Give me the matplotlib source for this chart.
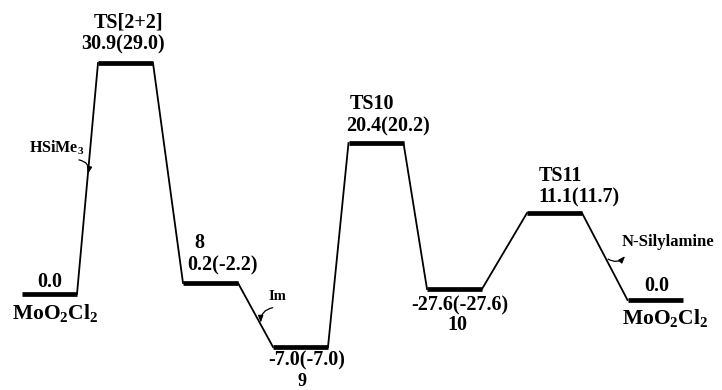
import matplotlib
matplotlib.use("Agg")
import matplotlib.pyplot as plt

# ---------------- data ----------------
species = ["MoO$_2$Cl$_2$", "TS[2+2]", "8", "9", "TS10", "10", "TS11", "MoO$_2$Cl$_2$"]
energy = [0.0, 30.9, 0.2, -7.0, 20.4, -27.6, 11.1, 0.0]
energy_sol = [None, 29.0, -2.2, -7.0, 20.2, -27.6, 11.7, None]
# schematic drawn level (diagram units, not to scale)
level = [0, 231, 11, -53, 151, 5, 81, -6]
step_labels = ["HSiMe$_3$", "Im", "N-Silylamine"]

# ---------------- layout ----------------
xcent = [49.5, 125.5, 210.5, 300.5, 376, 454.5, 554.5, 655]
half = 27.5

plt.rcParams["font.family"] = ["Liberation Serif", "DejaVu Serif"]
plt.rcParams["font.weight"] = "bold"
plt.rcParams["mathtext.fontset"] = "custom"
plt.rcParams["mathtext.rm"] = "Liberation Serif:bold"
plt.rcParams["mathtext.it"] = "Liberation Serif:bold"
plt.rcParams["mathtext.bf"] = "Liberation Serif:bold"
plt.rcParams["mathtext.default"] = "rm"

fig = plt.figure(figsize=(7.22, 3.90), dpi=100)
ax = fig.add_axes([0, 0, 1, 1])
ax.set_xlim(0, 722)
ax.set_ylim(-96, 294)
ax.axis("off")

# levels
for xc, lv in zip(xcent, level):
    ax.plot([xc - half, xc + half], [lv, lv], color="black", lw=3.4, solid_capstyle="butt")
# connectors
for i in range(len(level) - 1):
    ax.plot([xcent[i] + half, xcent[i + 1] - half], [level[i], level[i + 1]],
            color="black", lw=1.3)

def fmt(e, s):
    if s is None:
        return f"{e:.1f}"
    return f"{e:.1f}({s:.1f})"

px = 0.72  # px -> points
big = 14.5
name = 15.5

def lab(i, txt, dx, dy, size=big):
    ax.annotate(txt, xy=(xcent[i], level[i]), xytext=(dx * px, dy * px),
                textcoords="offset points", ha="center", va="center",
                fontsize=size, fontweight="bold")

# start
lab(0, fmt(energy[0], energy_sol[0]), 0, 12)
lab(0, species[0], 6, -19, name)
# TS[2+2]
lab(1, species[1], 2.5, 41)
lab(1, fmt(energy[1], energy_sol[1]), -2.5, 19)
# 8
lab(2, species[2], -11, 40)
lab(2, fmt(energy[2], energy_sol[2]), 12.5, 18)
# 9
lab(3, fmt(energy[3], energy_sol[3]), 6.5, -13.5)
lab(3, species[3], 1.5, -34, 13)
# TS10
lab(4, species[4], -4, 39)
lab(4, fmt(energy[4], energy_sol[4]), 12, 17)
# 10
lab(5, fmt(energy[5], energy_sol[5]), 5.5, -16)
lab(5, species[5], 2.5, -36)
# TS11
lab(6, species[6], 5.5, 37)
lab(6, fmt(energy[6], energy_sol[6]), 24.5, 16)
# end
lab(7, fmt(energy[7], energy_sol[7]), 2, 14)
lab(7, species[7], 10, -18, name)

def seg_point(i, t):
    x0, y0 = xcent[i] + half, level[i]
    x1, y1 = xcent[i + 1] - half, level[i + 1]
    return x0 + t * (x1 - x0), y0 + t * (y1 - y0)

small = 11.5
# HSiMe3
p = seg_point(0, 0.52)
ax.text(57, p[1] + 26, step_labels[0], ha="center", va="center", fontsize=small, fontweight="bold")
ax.annotate("", xy=p, xytext=(p[0] - 9, p[1] + 14),
            arrowprops=dict(arrowstyle="-|>,head_length=0.4,head_width=0.15", color="black",
                            lw=0.9, connectionstyle="arc3,rad=-0.5", shrinkA=0, shrinkB=0))
# Im
p = seg_point(2, 0.62)
ax.text(p[0] + 18, p[1] + 26, step_labels[1], ha="center", va="center", fontsize=10.5, fontweight="bold")
ax.annotate("", xy=(p[0] + 1, p[1]), xytext=(p[0] + 13, p[1] + 15),
            arrowprops=dict(arrowstyle="-|>,head_length=0.4,head_width=0.15", color="black",
                            lw=0.9, connectionstyle="arc3,rad=0.4", shrinkA=0, shrinkB=0))
# N-Silylamine
p = seg_point(6, 0.53)
ax.text(p[0] + 62, p[1] + 17, step_labels[2], ha="center", va="center", fontsize=12, fontweight="bold")
ax.annotate("", xy=(p[0] + 19, p[1] + 3), xytext=(p[0] + 2, p[1]),
            arrowprops=dict(arrowstyle="-|>,head_length=0.4,head_width=0.15", color="black",
                            lw=0.9, connectionstyle="arc3,rad=0.4", shrinkA=0, shrinkB=0))

fig.savefig("out.png", dpi=100, facecolor="white")
